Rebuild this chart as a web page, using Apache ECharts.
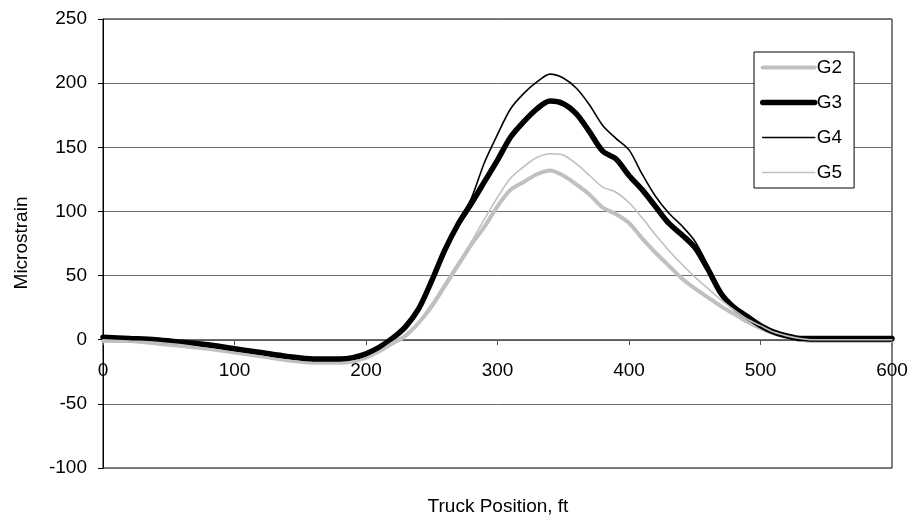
<!DOCTYPE html>
<html><head><meta charset="utf-8">
<script src="https://cdn.jsdelivr.net/npm/echarts@6/dist/echarts.min.js"></script>
<style>html,body{margin:0;padding:0;background:#fff}#c{width:913px;height:520px}</style>
</head><body><div id="c"></div>
<script>
const positions = [0,20,40,60,80,100,120,140,160,180,190,200,210,220,230,240,250,260,270,280,290,300,310,320,330,340,350,360,370,380,390,400,410,420,430,440,450,460,470,480,490,500,510,520,530,540,560,580,600];
const G2 = [-1,-1,-3,-5,-7,-10,-13,-16,-18,-18,-17,-14,-9,-3,3,13,26,42,58,74,88,104,117,123,129,132,128,121,113,103,98,91,79,68,58,48,40,33,26,20,14,9,5,2,0,-1,-1,-1,-1];
const G3 = [2,1,0,-2,-4,-7,-10,-13,-15,-15,-14,-11,-6,1,10,24,46,70,90,106,123,140,158,170,180,186,184,176,162,147,141,128,117,104,91,82,72,55,36,25,18,11,6,3,1,1,1,1,1];
const G4 = [1,0.5,-1,-3,-5,-8,-11,-14,-15,-15,-14,-11,-6,1,10,24,47,71,92,110,138,160,180,192,201,207,204,196,183,167,157,148,129,112,99,89,77,58,38,25,16,10,5,2,0,-1,-1,-1,-1];
const G5 = [0,-1,-2,-4,-7,-10,-13,-16,-18,-18,-17,-14,-9,-2,4,14,28,44,60,76,94,111,126,135,142,145,144,137,128,119,115,107,95,82,70,59,49,40,31,23,16,11,6,3,1,0,0,0,0];
const seriesNames = ['G2','G3','G4','G5'];
const xTitle = 'Truck Position, ft';
const yTitle = 'Microstrain';

const FONT = 'Liberation Sans, Arial, sans-serif';
const styles = {
  G2: {color:'#c0c0c0', width:4},
  G3: {color:'#000000', width:5.5},
  G4: {color:'#000000', width:1.6},
  G5: {color:'#c0c0c0', width:1.6}
};
const dataMap = {G2, G3, G4, G5};
const pairs = arr => positions.map((x,i)=>[x, arr[i]]);

const chart = echarts.init(document.getElementById('c'), null, {renderer:'canvas'});
chart.setOption({
  animation:false,
  backgroundColor:'#ffffff',
  grid:{left:103, top:19, right:21, bottom:52, show:true, borderColor:'#000', borderWidth:1, backgroundColor:'transparent'},
  xAxis:{type:'value', min:0, max:600, interval:100, position:'bottom', offset:-128,
    axisLine:{show:true, onZero:false, lineStyle:{color:'#555', width:1}},
    axisTick:{show:true, inside:false, length:5, lineStyle:{color:'#555'}},
    axisLabel:{color:'#000', fontSize:19, fontFamily:FONT, margin:21, showMinLabel:true, showMaxLabel:true},
    splitLine:{show:false}},
  yAxis:{type:'value', min:-100, max:250, interval:50,
    axisLine:{show:true, onZero:false, lineStyle:{color:'#000', width:1}},
    axisTick:{show:true, inside:false, length:5, lineStyle:{color:'#000'}},
    axisLabel:{color:'#000', fontSize:19, fontFamily:FONT, margin:16},
    splitLine:{show:true, lineStyle:{color:'#6e6e6e', width:1}}},
  legend:{show:true, orient:'vertical', left:754, top:52, padding:[6,12,6,6],
    backgroundColor:'#fff', borderColor:'#000', borderWidth:1,
    itemWidth:52, itemHeight:19, itemGap:16,
    textStyle:{color:'#000', fontSize:19, fontFamily:FONT, padding:[0,0,0,-3]},
    data: seriesNames.map(n=>({name:n, itemStyle:{opacity:0}, lineStyle:{color:styles[n].color, width:styles[n].width, cap:'round'}}))
  },
  series: seriesNames.map(n=>({
    name:n, type:'line', data:pairs(dataMap[n]), showSymbol:false, symbol:'none', smooth:0.3,
    lineStyle:{color:styles[n].color, width:styles[n].width, cap:'round', join:'round'},
    itemStyle:{color:styles[n].color}
  })),
  graphic:[
    {type:'text', x:22, y:243, rotation:Math.PI/2, style:{text:yTitle, font:'19px '+FONT, fill:'#000', align:'center', verticalAlign:'middle'}},
    {type:'text', x:498, y:507, style:{text:xTitle, font:'19px '+FONT, fill:'#000', align:'center', verticalAlign:'middle'}}
  ]
});
</script></body></html>
